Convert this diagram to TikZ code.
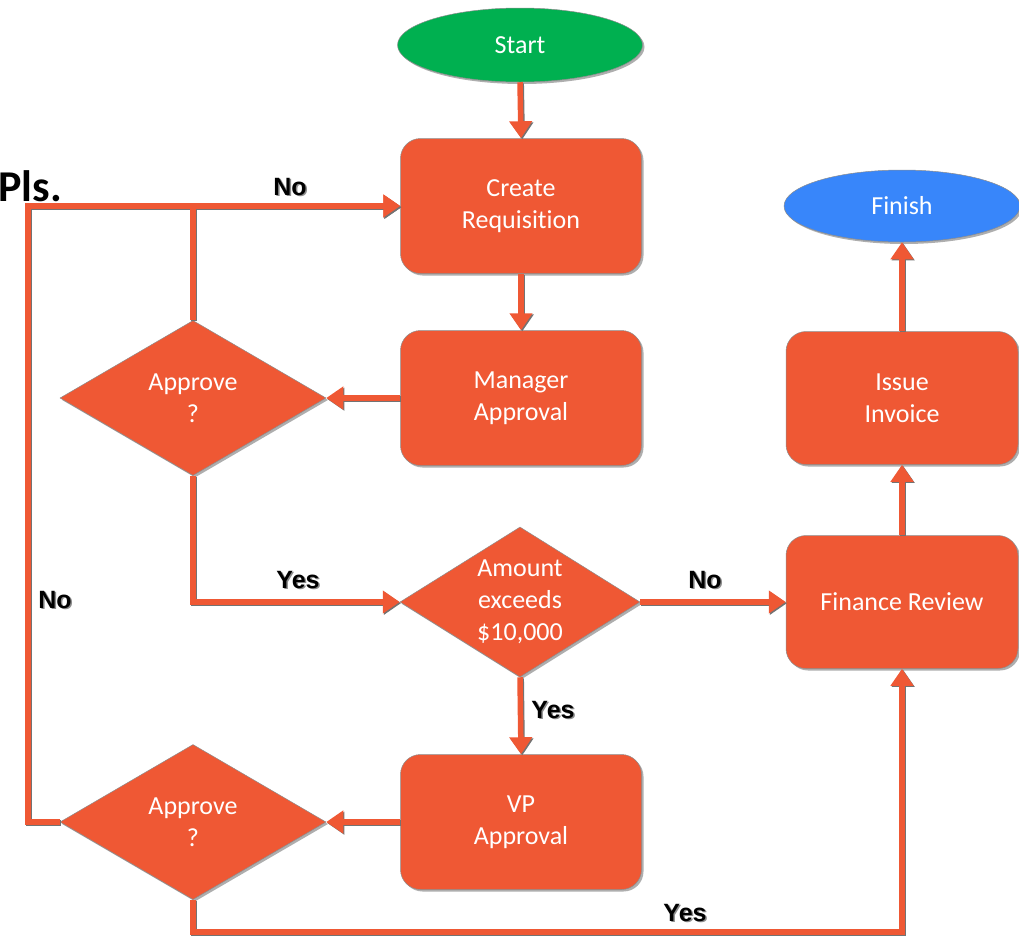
\documentclass[tikz,border=0pt]{standalone}
\usepackage{fontspec}
\setmainfont{Carlito}[Ligatures=NoCommon]
\newfontfamily\lblfont{Liberation Sans}
\usetikzlibrary{shapes.geometric,arrows.meta,shadows,calc}
\definecolor{org}{RGB}{239,88,52}
\definecolor{grn}{RGB}{0,176,80}
\definecolor{blu}{RGB}{56,134,250}
\tikzset{
  shad/.style={drop shadow={shadow xshift=2pt,shadow yshift=-2pt,opacity=0.45,fill=black!70}},
  box/.style={rectangle, rounded corners=20pt, fill=org, draw=black!45, line width=0.5pt,
    minimum width=241pt, minimum height=135pt, inner sep=0pt, text=white, align=center,
    font=\fontsize{26}{32}\selectfont, shad},
  dia/.style={diamond, fill=org, draw=black!45, line width=0.5pt, inner sep=0pt,
    minimum width=266pt, minimum height=155pt, shad},
  diatext/.style={text=white, align=center, font=\fontsize{26}{32}\selectfont},
  term/.style={ellipse, draw=black!45, line width=0.5pt, inner sep=0pt, text=white,
    font=\fontsize{26}{32}\selectfont, shad},
  conn/.style={draw=org, line width=5.5pt,
    preaction={draw=black!55, line width=5.5pt, transform canvas={xshift=1.2pt,yshift=-1.2pt}}},
  arr/.style={conn, -{Triangle[width=22pt,length=17pt]}},
  lab/.style={font=\lblfont\bfseries\fontsize{25}{30}\selectfont, text=black},
  labsh/.style={font=\lblfont\bfseries\fontsize{25}{30}\selectfont, text=black!45}
}
\newcommand{\flowlab}[3]{%
  \node[labsh] (#1s) at ($(#2)+(1.5,1.5)$) {#3};
  \node[lab] (#1) at (#2) {#3};}
\begin{document}
\begin{tikzpicture}[x=1pt,y=-1pt]
\useasboundingbox (0,0) rectangle (1019,938);
\clip (0,0) rectangle (1019,938);

\node[anchor=base west, font=\bfseries\fontsize{44}{50}\selectfont] (pls) at (-5,201) {Pls.};

\node[term, fill=grn, minimum width=245pt, minimum height=74pt] (start) at (520,45) {Start};
\node[box] (cr) at (521,206) {Create\\Requisition};
\node[box] (ma) at (521,398) {Manager\\Approval};
\node[dia, label={[diatext]center:Approve\\?}] (ap1) at (193,398) {};
\node[dia, minimum width=240pt, minimum height=150pt,
      label={[diatext]center:Amount\\exceeds\\\$10,000}] (amt) at (520,602) {};
\node[box] (vp) at (521,822) {VP\\Approval};
\node[dia, label={[diatext]center:Approve\\?}] (ap2) at (193,822) {};
\node[box, minimum width=232pt, minimum height=133pt] (fr) at (902,602) {Finance Review};
\node[box, minimum width=232pt, minimum height=133pt] (ii) at (902,398) {Issue\\Invoice};
\node[term, fill=blu, minimum width=236pt, minimum height=72pt] (fin) at (902,206) {Finish};

\coordinate (lt) at (28,206);
\coordinate (bot) at (500,932);

\draw[arr] (start.south) -- (cr.north);
\draw[arr] (cr.south) -- (ma.north);
\draw[arr] (ma.west) -- (ap1.east);
\draw[arr] (ap2.west) -| (lt) -- (cr.west);
\draw[arr] (ap1.north) |- (cr.west);
\draw[arr] (ap1.south) |- (amt.west);
\draw[arr] (amt.east) -- (fr.west);
\draw[arr] (amt.south) -- (vp.north);
\draw[arr] (vp.west) -- (ap2.east);
\draw[arr] (ap2.south) |- (bot) -| (fr.south);
\draw[arr] (fr.north) -- (ii.south);
\draw[arr] (ii.north) -- (fin.south);

\flowlab{l1}{290,187}{No}
\flowlab{l2}{55,600}{No}
\flowlab{l3}{298,580}{Yes}
\flowlab{l4}{705,580}{No}
\flowlab{l5}{553,710}{Yes}
\flowlab{l6}{685,913}{Yes}
\end{tikzpicture}
\end{document}
